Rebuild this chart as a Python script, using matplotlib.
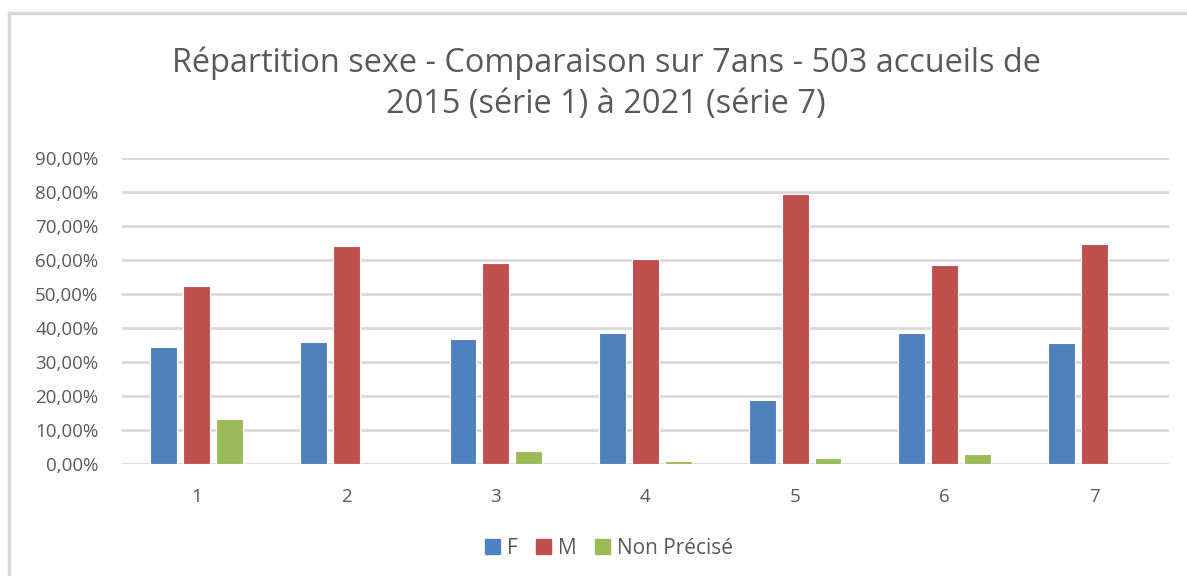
"""Répartition sexe - comparaison sur 7 ans (Excel-style clustered bars)."""

import matplotlib

matplotlib.use("Agg")
import matplotlib.pyplot as plt
from matplotlib.lines import Line2D
from matplotlib.ticker import FuncFormatter

categories = ["1", "2", "3", "4", "5", "6", "7"]
series_names = ["F", "M", "Non Précisé"]
f_values = [34.3, 35.8, 36.9, 38.4, 18.8, 38.4, 35.5]
m_values = [52.5, 64.1, 59.2, 60.4, 79.4, 58.4, 64.6]
np_values = [13.1, 0.0, 3.9, 0.9, 1.7, 2.8, 0.0]
colors = ["#4F81BD", "#C0504D", "#9BBB59"]
title = "Répartition sexe - Comparaison sur 7ans - 503 accueils de\n2015 (série 1) à 2021 (série 7)"

plt.rcParams["font.family"] = ["Open Sans", "DejaVu Sans"]
text_color = "#595959"
grid_color = "#D9D9D9"

fig = plt.figure(figsize=(11.87, 5.76), dpi=100)
ax = fig.add_axes([122 / 1187, 112 / 576, 1047 / 1187, 306 / 576])

x = list(range(len(categories)))
width = 0.18
offsets = [-0.22, 0.0, 0.22]
for vals, name, color, off in zip([f_values, m_values, np_values], series_names, colors, offsets):
    ax.bar([i + off for i in x], [v / 100 for v in vals], width=width, color=color,
           edgecolor="white", linewidth=0.8, label=name, zorder=3)

ax.set_xlim(-0.5, len(categories) - 0.5)
ax.set_ylim(0, 0.9)
ax.set_yticks([i / 10 for i in range(10)])
ax.yaxis.set_major_formatter(FuncFormatter(lambda v, _: f"{v * 100:.2f}".replace(".", ",") + "%"))
ax.set_xticks(x)
ax.set_xticklabels(categories)
ax.tick_params(axis="both", length=0, labelsize=13.5, labelcolor=text_color)
ax.tick_params(axis="y", pad=17)
ax.tick_params(axis="x", pad=17)
ax.grid(axis="y", color=grid_color, linewidth=2, zorder=0)
for s in ax.spines.values():
    s.set_visible(False)

fig.text(606 / 1187, 1 - 84 / 576, title, ha="center", va="center", fontsize=23.4,
         color=text_color, linespacing=1.32)

handles = [plt.Rectangle((0, 0), 1, 1, color=c) for c in colors]
fig.legend(handles, series_names, loc="center", bbox_to_anchor=(609 / 1187, 1 - 548 / 576), ncol=3,
           frameon=False, fontsize=15, labelcolor=text_color, handlelength=0.72,
           handleheight=0.72, handletextpad=0.35, columnspacing=0.85)

# chart border (left and top only visible in the crop)
fig.add_artist(Line2D([9.5 / 1187, 9.5 / 1187], [0, 1 - 13 / 576], transform=fig.transFigure,
                      color=grid_color, linewidth=2.5))
fig.add_artist(Line2D([9.5 / 1187, 1], [1 - 13 / 576, 1 - 13 / 576], transform=fig.transFigure,
                      color=grid_color, linewidth=2.5))

fig.savefig("out.png", dpi=100)
